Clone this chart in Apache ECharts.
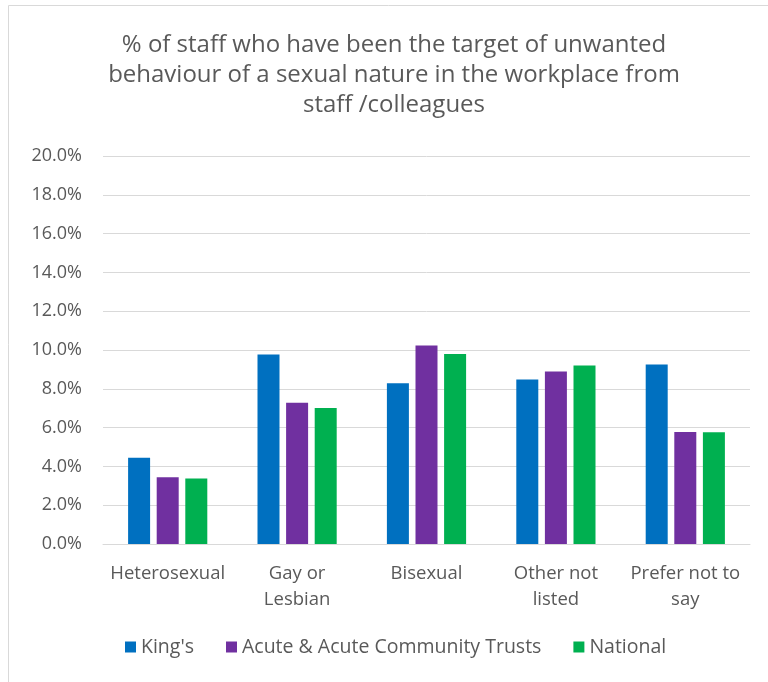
<!DOCTYPE html>
<html>
<head>
<meta charset="utf-8">
<script src="https://cdn.jsdelivr.net/npm/echarts@6/dist/echarts.min.js"></script>
<style>
  html, body { margin: 0; padding: 0; background: #fff; }
  #chart { width: 768px; height: 682px; }
</style>
</head>
<body>
<div id="chart"></div>
<script>
// categories + series values (%)
const categories = ['Heterosexual', 'Gay or\nLesbian', 'Bisexual', 'Other not\nlisted', 'Prefer not to\nsay']
const kings = [4.44, 9.77, 8.29, 8.48, 9.25]
const acute = [3.44, 7.28, 10.23, 8.89, 5.77]
const national = [3.37, 7.01, 9.8, 9.2, 5.76]
const seriesNames = ["King's", 'Acute & Acute Community Trusts', 'National']
const colors = ['#0070c0', '#7030a0', '#00b050']
const titleText = '% of staff who have been the target of unwanted\nbehaviour of a sexual nature in the workplace from\nstaff /colleagues'

const font = 'Open Sans'
const txt = '#595959'

let chart = echarts.init(document.getElementById('chart'))

function bar(name, data) {
    return {
        name: name,
        type: 'bar',
        data: data,
        barWidth: 22,
        barGap: '30%',
        animation: false
    }
}

let options = {
    color: colors,
    legend: {
        bottom: 20,
        left: 120,
        itemWidth: 11,
        itemHeight: 11,
        itemGap: 32,
        icon: 'rect',
        textStyle: { fontFamily: font, fontSize: 19.5, color: txt }
    },
    grid: { left: 103, right: 18, top: 156, bottom: 138 },
    xAxis: {
        type: 'category',
        data: categories,
        axisTick: { show: false },
        axisLine: { lineStyle: { color: '#d9d9d9', width: 1 } },
        axisLabel: {
            fontFamily: font, fontSize: 18.5, color: txt,
            lineHeight: 26, margin: 17, interval: 0
        }
    },
    yAxis: {
        type: 'value',
        min: 0,
        max: 20,
        interval: 2,
        axisLabel: {
            fontFamily: font, fontSize: 18, color: txt, margin: 21,
            formatter: v => v.toFixed(1) + '%'
        },
        splitLine: { lineStyle: { color: '#d9d9d9', width: 1 } }
    },
    graphic: [{
        type: 'rect',
        shape: { x: 8.5, y: 5.5, width: 800, height: 700 },
        style: { fill: 'none', stroke: '#d9d9d9', lineWidth: 1 },
        silent: true
    }, {
        // title drawn as text so it can sit off-centre like the original
        type: 'text',
        x: 394,
        y: 30,
        silent: true,
        style: {
            text: titleText,
            align: 'center',
            verticalAlign: 'top',
            fontFamily: font,
            fontSize: 24,
            lineHeight: 30,
            fill: txt
        }
    }],
    series: [
        bar(seriesNames[0], kings),
        bar(seriesNames[1], acute),
        bar(seriesNames[2], national)
    ]
}
options && chart.setOption(options)
</script>
</body>
</html>
